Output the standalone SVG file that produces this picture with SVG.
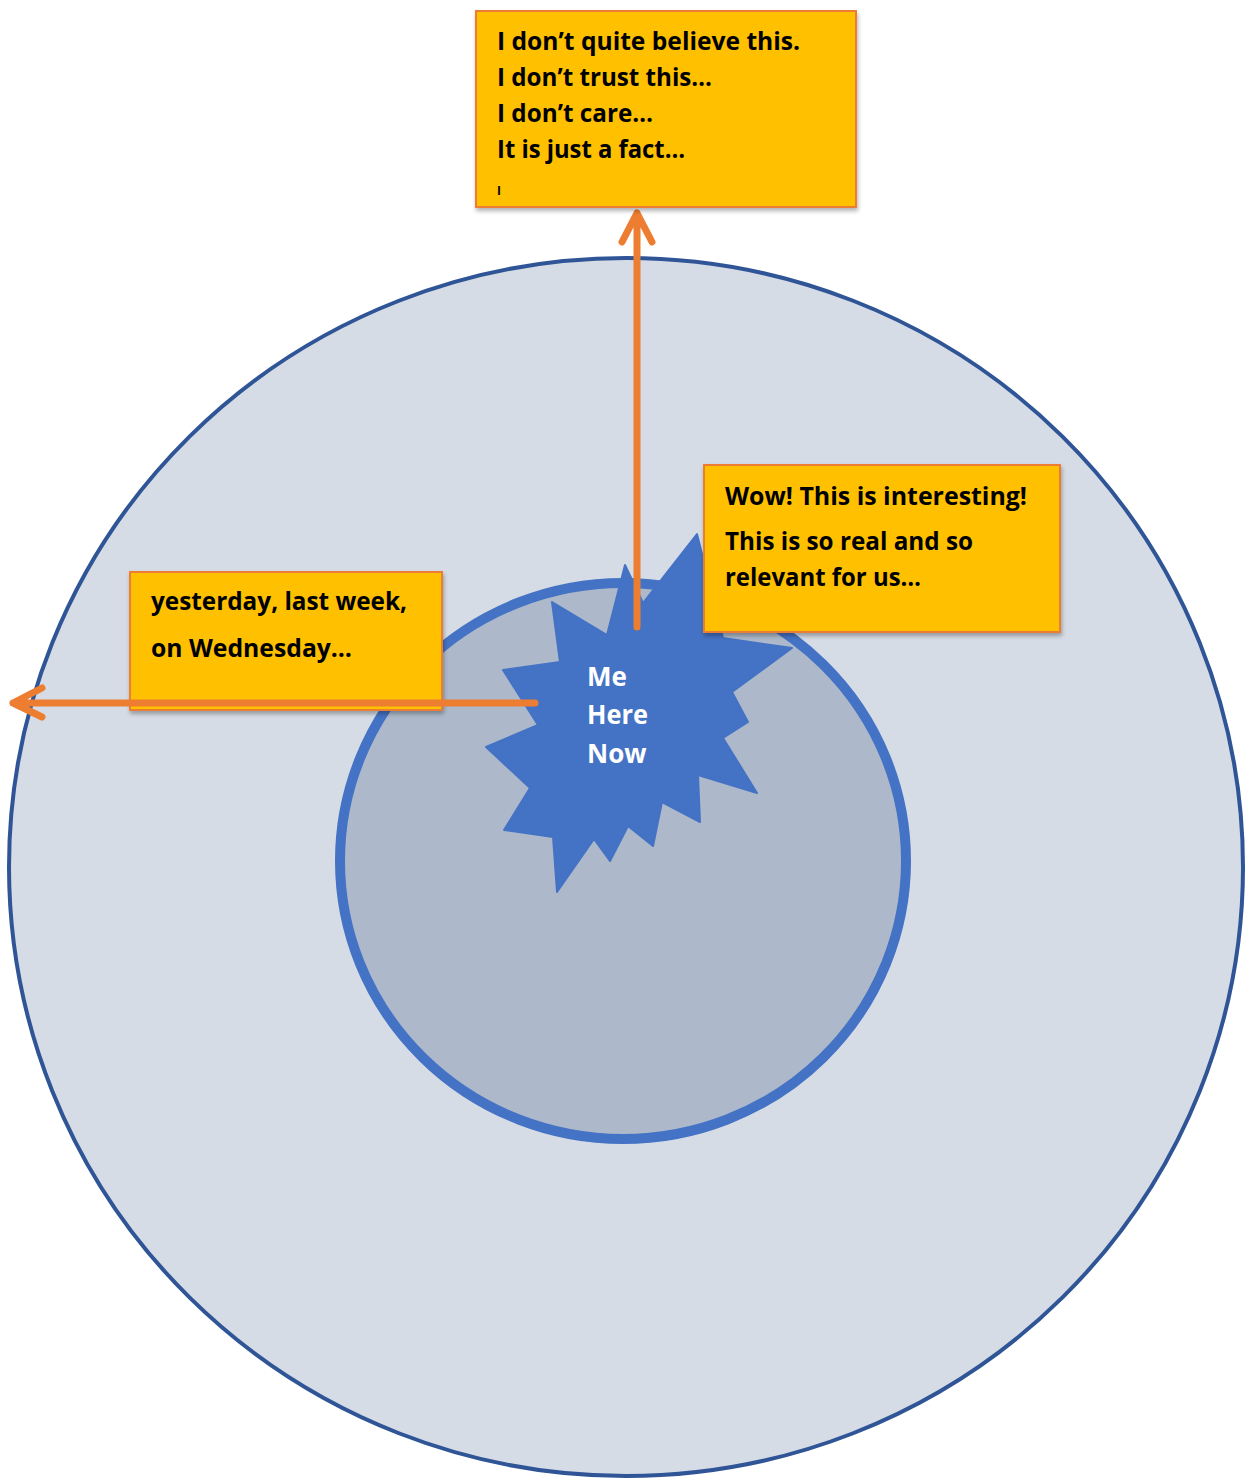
<svg xmlns="http://www.w3.org/2000/svg" width="1246" height="1479" viewBox="0 0 1246 1479">
<defs>
<filter id="sh" x="-5%" y="-5%" width="115%" height="120%">
<feDropShadow dx="1" dy="3" stdDeviation="2" flood-color="#000" flood-opacity="0.3"/>
</filter>
<style>
.box{fill:#FFC000;stroke:#ED7D31;stroke-width:2;filter:url(#sh)}
.t{font-family:"Open Sans","Noto Sans","Liberation Sans",sans-serif;font-weight:bold;font-size:25.5px;fill:#000}
.w{font-family:"Open Sans","Noto Sans","Liberation Sans",sans-serif;font-weight:bold;font-size:26px;fill:#fff}
.arr{fill:none;stroke:#ED7D31;stroke-width:7;stroke-linecap:round;stroke-linejoin:round}
</style>
</defs>
<rect width="1246" height="1479" fill="#fff"/>
<g id="outer-circle">
<ellipse cx="626" cy="867" rx="617" ry="609" fill="#D6DCE5" stroke="#2F5597" stroke-width="4"/>
</g>
<g id="inner-circle">
<ellipse cx="623" cy="861" rx="283" ry="278" fill="#ADB9CA" stroke="#4472C4" stroke-width="10"/>
</g>
<g id="star">
<polygon fill="#4472C4" stroke="#4472C4" stroke-width="2" stroke-linejoin="round" points="552,602 607,635 625,565 643,603 697,534 723,638 792,648 732,692 748,722 723,738 757,793 698,775 700,822 662,802 653,846 628,826 610,861 594,839 557,892 553,837 504,830 530,788 486,747 538,725 503,670 560,662"/>
<text class="w" x="587" y="686">Me</text>
<text class="w" x="587" y="724" textLength="61" lengthAdjust="spacingAndGlyphs">Here</text>
<text class="w" x="587" y="763">Now</text>
</g>
<g id="box-past">
<rect class="box" x="130" y="572" width="312" height="138"/>
<text class="t" x="151" y="610" textLength="256" lengthAdjust="spacingAndGlyphs">yesterday, last week,</text>
<text class="t" x="151" y="657" textLength="201" lengthAdjust="spacingAndGlyphs">on Wednesday…</text>
</g>
<g id="connectors">
<path class="arr" d="M637,627 V213 M622,242 L637,213 L652,242"/>
<path class="arr" d="M535,703 H13 M42,688 L13,703 L42,717"/>
</g>
<g id="box-now">
<rect class="box" x="704" y="465" width="356" height="167"/>
<text class="t" x="725" y="505" textLength="302" lengthAdjust="spacingAndGlyphs">Wow! This is interesting!</text>
<text class="t" x="725" y="550" textLength="248" lengthAdjust="spacingAndGlyphs">This is so real and so</text>
<text class="t" x="725" y="586" textLength="196" lengthAdjust="spacingAndGlyphs">relevant for us…</text>
</g>
<g id="box-distant">
<rect class="box" x="476" y="11" width="380" height="196"/>
<text class="t" x="497" y="50" textLength="303" lengthAdjust="spacingAndGlyphs">I don’t quite believe this.</text>
<text class="t" x="497" y="86" textLength="215" lengthAdjust="spacingAndGlyphs">I don’t trust this…</text>
<text class="t" x="497" y="122" textLength="156" lengthAdjust="spacingAndGlyphs">I don’t care…</text>
<text class="t" x="497" y="158" textLength="188" lengthAdjust="spacingAndGlyphs">It is just a fact…</text>
<text class="t" x="497" y="195" style="font-size:12px">I</text>
</g>
</svg>
